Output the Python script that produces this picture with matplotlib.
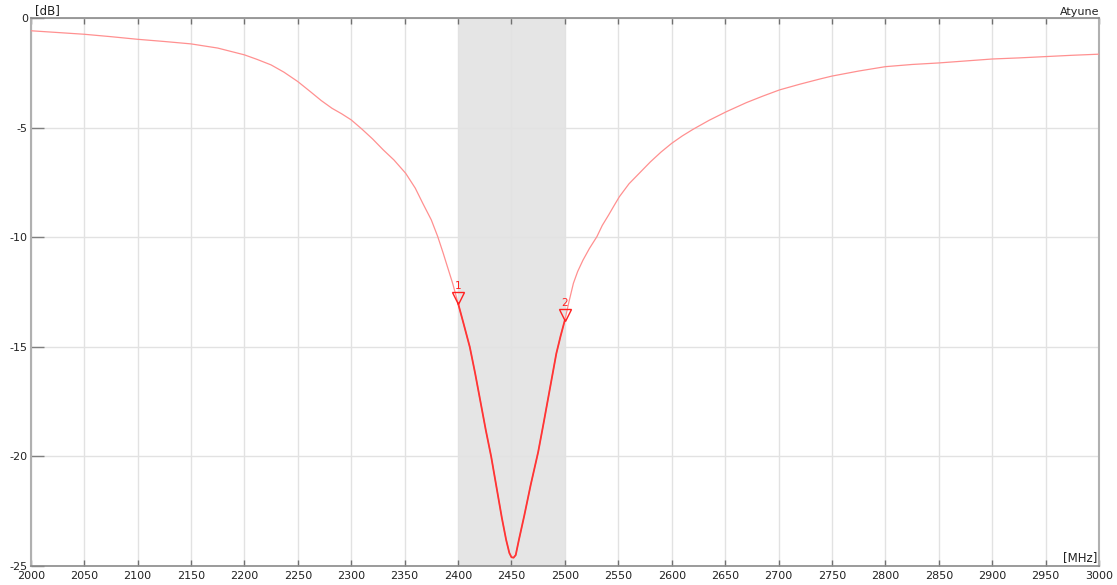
import numpy as np
import matplotlib
matplotlib.use("Agg")
import matplotlib.pyplot as plt
from matplotlib import transforms

# Data
freq_mhz = [2000, 2025, 2050, 2075, 2100, 2125, 2150, 2175, 2200, 2212, 2225, 2237,
            2250, 2262, 2272, 2282, 2291, 2300, 2310, 2320, 2330, 2340, 2351, 2360,
            2367, 2375, 2381, 2386, 2391, 2395, 2400, 2405, 2411, 2416, 2421, 2426,
            2431, 2436, 2441, 2445, 2448, 2450, 2452, 2454, 2457, 2462, 2468, 2475,
            2480, 2486, 2492, 2496, 2500, 2504, 2508, 2512, 2517, 2523, 2530, 2535,
            2541, 2546, 2551, 2560, 2569, 2580, 2590, 2600, 2610, 2620, 2635, 2651,
            2670, 2685, 2701, 2720, 2739, 2750, 2775, 2800, 2825, 2850, 2875, 2900,
            2925, 2950, 2975, 3000]
s11_db = [-0.56, -0.64, -0.72, -0.83, -0.95, -1.05, -1.16, -1.35, -1.66, -1.87, -2.12, -2.45,
          -2.88, -3.35, -3.75, -4.10, -4.35, -4.63, -5.05, -5.50, -6.00, -6.46, -7.07, -7.75,
          -8.44, -9.20, -9.96, -10.70, -11.48, -12.10, -13.00, -13.90, -15.00, -16.20, -17.50, -18.80,
          -20.00, -21.40, -22.80, -23.80, -24.40, -24.60, -24.62, -24.50, -23.80, -22.70, -21.30, -19.80,
          -18.50, -16.90, -15.30, -14.50, -13.77, -12.90, -12.09, -11.55, -11.03, -10.50, -9.96, -9.45,
          -8.97, -8.55, -8.14, -7.55, -7.10, -6.55, -6.10, -5.70, -5.36, -5.06, -4.65, -4.26,
          -3.84, -3.55, -3.26, -3.00, -2.76, -2.63, -2.40, -2.20, -2.10, -2.03, -1.94, -1.85,
          -1.80, -1.74, -1.68, -1.63]
band_mhz = [2400, 2500]
marker_freq = [2400, 2500]
marker_db = [-13.00, -13.77]
marker_labels = ["1", "2"]
x_ticks = list(range(2000, 3001, 50))
y_ticks = [0, -5, -10, -15, -20, -25]

fig = plt.figure(figsize=(11.17, 5.85), dpi=100)
ax = fig.add_axes([0.0275, 0.0325, 0.9564, 0.9359])

f = np.array(freq_mhz)
s = np.array(s11_db)

ax.axvspan(band_mhz[0], band_mhz[1], color="#e5e5e5", zorder=0, lw=0)

ax.plot(f, s, color="#ff9090", lw=0.9, zorder=3)
inband = (f >= band_mhz[0]) & (f <= band_mhz[1])
ax.plot(f[inband], s[inband], color="#ff3535", lw=1.3, zorder=4)

# markers: tip of down triangle at the data point
msize = 8
off = transforms.offset_copy(ax.transData, fig=fig, x=0, y=msize / 2 * 0.9, units="points")
ax.plot(marker_freq, marker_db, linestyle="none", marker="v", markersize=msize,
        markerfacecolor="none", markeredgecolor="#ff2020", markeredgewidth=1.0,
        transform=off, zorder=5)
for mf, md, ml in zip(marker_freq, marker_db, marker_labels):
    ax.annotate(ml, (mf, md), xytext=(0, 8.5), textcoords="offset points",
                ha="center", va="bottom", color="#ff2020", fontsize=7.5, zorder=6)

ax.set_xlim(2000, 3000)
ax.set_ylim(-25, 0)
ax.set_xticks(x_ticks)
ax.set_xticklabels([str(v) for v in x_ticks])
ax.set_yticks(y_ticks)
ax.set_yticklabels([str(v) for v in y_ticks])
ax.grid(True, color="#e2e2e2", lw=1.0, zorder=1)
ax.set_axisbelow(True)

ax.tick_params(axis="x", direction="in", length=4, width=1, color="#707070",
               labelsize=8, labelcolor="#222222", pad=3.5, top=True)
ax.tick_params(axis="y", direction="in", length=9, width=1, color="#808080",
               labelsize=8, labelcolor="#222222", pad=2)
for side in ["top", "bottom"]:
    ax.spines[side].set_color("#8a8a8a")
    ax.spines[side].set_linewidth(1.2)
for side in ["left", "right"]:
    ax.spines[side].set_color("#b0b0b0")
    ax.spines[side].set_linewidth(1.5)

ax.text(0.004, 1.003, "[dB]", transform=ax.transAxes, ha="left", va="bottom",
        fontsize=8.5, color="#222222")
ax.text(1.0, 1.003, "Atyune", transform=ax.transAxes, ha="right", va="bottom",
        fontsize=8, color="#222222")
ax.text(0.998, 0.004, "[MHz]", transform=ax.transAxes, ha="right", va="bottom",
        fontsize=8.5, color="#222222")

fig.savefig("out.png", dpi=100)
